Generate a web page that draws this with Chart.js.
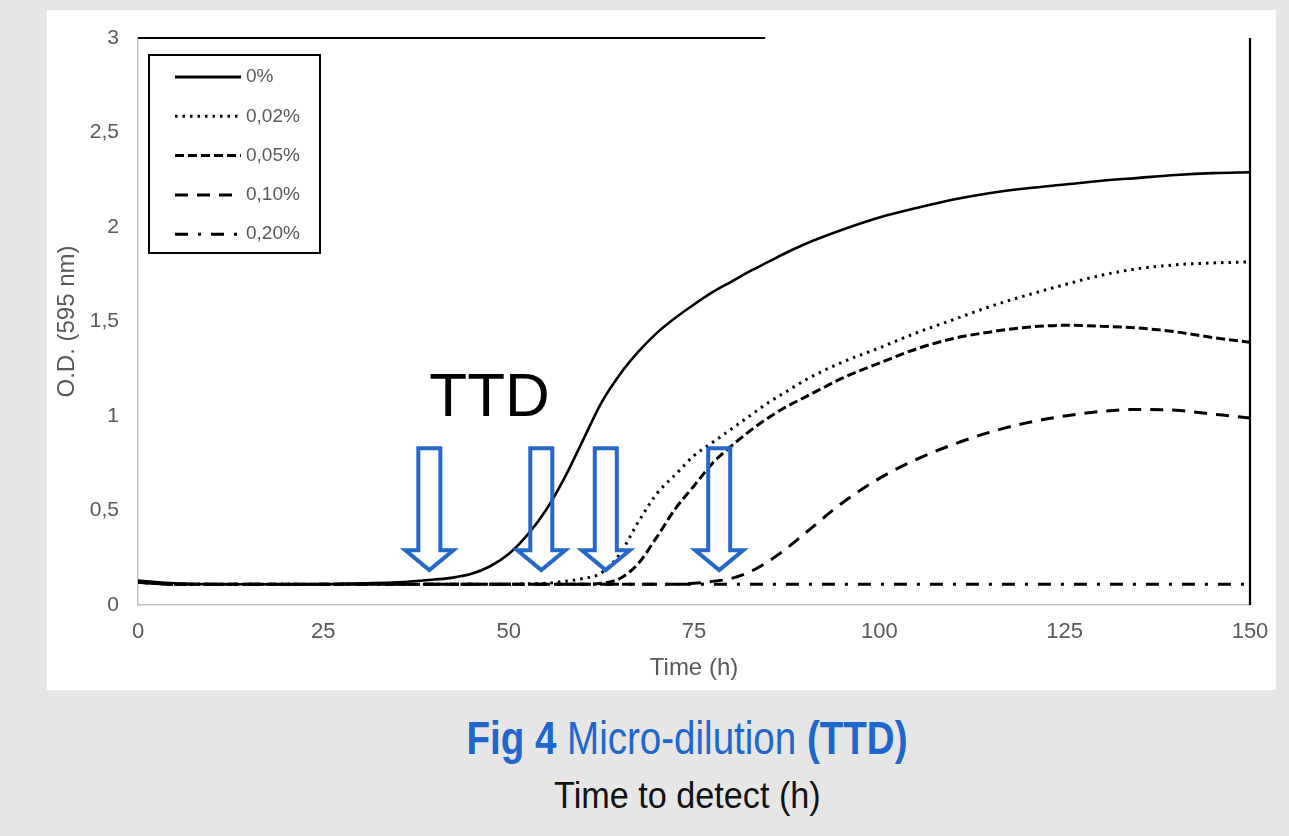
<!DOCTYPE html>
<html lang="en">
<head>
  <meta charset="UTF-8" />
  <title>Micro-dilution (TTD)</title>
  <script src="https://cdn.jsdelivr.net/npm/chart.js"></script>
  <style>
    body {
      margin: 0;
      width: 1289px;
      height: 836px;
      background-color: #e6e6e6;
      position: relative;
      overflow: hidden;
    }

    #panel {
      position: absolute;
      left: 47px;
      top: 10px;
      width: 1229px;
      height: 680px;
      background-color: white;
    }

    .caption {
      position: absolute;
      left: 0;
      width: 1374px;
      text-align: center;
      font-family: 'Liberation Sans', Arial, sans-serif;
      line-height: 1;
      white-space: nowrap;
    }

    .caption span {
      display: inline-block;
    }

    #cap1 {
      top: 714px;
      font-size: 47px;
      color: #2166cc;
    }

    #cap1 span {
      transform: scaleX(0.82);
    }

    #cap2 {
      top: 778px;
      font-size: 36px;
      color: #111;
    }

    #cap2 span {
      transform: scaleX(0.95);
    }
  </style>
</head>
<body>

<div id="panel">
  <canvas id="ttdChart" width="1229" height="680"></canvas>
</div>
<div class="caption" id="cap1"><span><b>Fig 4</b> Micro-dilution <b>(TTD)</b></span></div>
<div class="caption" id="cap2"><span>Time to detect (h)</span></div>

<script>
  // time points (h)
  const times = [0, 5, 10, 15, 20, 25, 30, 35, 40, 42.5, 45, 47.5, 50, 52.5, 55, 57.5, 60, 62.5, 65, 67.5,
                 70, 72.5, 75, 77.5, 80, 82.5, 85, 87.5, 90, 95, 100, 105, 110, 115, 120, 125, 130, 135, 140, 145, 150];

  // O.D. (595 nm) per concentration
  const od0 = [0.13, 0.115, 0.11, 0.11, 0.11, 0.11, 0.115, 0.12, 0.135, 0.145, 0.165, 0.205, 0.27, 0.37, 0.5, 0.67, 0.87, 1.07, 1.22, 1.34,
               1.44, 1.52, 1.59, 1.655, 1.71, 1.765, 1.815, 1.865, 1.91, 1.985, 2.05, 2.10, 2.145, 2.18, 2.205, 2.225, 2.245, 2.26, 2.275, 2.285, 2.29];
  const od002 = [0.12, 0.11, 0.11, 0.11, 0.11, 0.11, 0.11, 0.11, 0.11, 0.11, 0.11, 0.11, 0.11, 0.112, 0.115, 0.125, 0.14, 0.17, 0.27, 0.44,
                 0.59, 0.69, 0.79, 0.86, 0.93, 1.0, 1.07, 1.13, 1.19, 1.285, 1.36, 1.44, 1.51, 1.58, 1.64, 1.695, 1.745, 1.78, 1.80, 1.81, 1.815];
  const od005 = [0.12, 0.11, 0.11, 0.11, 0.11, 0.11, 0.11, 0.11, 0.11, 0.11, 0.11, 0.11, 0.11, 0.11, 0.11, 0.11, 0.11, 0.115, 0.14, 0.22,
                 0.36, 0.51, 0.63, 0.75, 0.84, 0.92, 0.99, 1.05, 1.10, 1.2, 1.28, 1.355, 1.41, 1.445, 1.47, 1.48, 1.475, 1.465, 1.445, 1.415, 1.39];
  const od010 = [0.12, 0.11, 0.11, 0.11, 0.11, 0.11, 0.11, 0.11, 0.11, 0.11, 0.11, 0.11, 0.11, 0.11, 0.11, 0.11, 0.11, 0.11, 0.11, 0.11,
                 0.11, 0.11, 0.115, 0.125, 0.14, 0.175, 0.23, 0.3, 0.38, 0.54, 0.67, 0.77, 0.85, 0.915, 0.965, 1.0, 1.025, 1.035, 1.03, 1.01, 0.99];
  const od020 = [0.12, 0.11, 0.11, 0.11, 0.11, 0.11, 0.11, 0.11, 0.11, 0.11, 0.11, 0.11, 0.11, 0.11, 0.11, 0.11, 0.11, 0.11, 0.11, 0.11,
                 0.11, 0.11, 0.11, 0.11, 0.11, 0.11, 0.11, 0.11, 0.11, 0.11, 0.11, 0.11, 0.11, 0.11, 0.11, 0.11, 0.11, 0.11, 0.11, 0.11, 0.11];

  const seriesLabels = ['0%', '0,02%', '0,05%', '0,10%', '0,20%'];
  const seriesValues = [od0, od002, od005, od010, od020];
  const seriesDash = [[], [2.5, 5], [9, 4], [13, 9], [13, 10, 3, 10]];

  // arrows marking the time to detect
  const ttdTimes = [39.3, 54.4, 63.1, 78.4];

  const xTicks = [0, 25, 50, 75, 100, 125, 150];
  const yTicks = [0, 0.5, 1, 1.5, 2, 2.5, 3];

  const BLUE = '#2468cc';
  const GREY_TEXT = '#595959';

  const extras = {
    id: 'extras',
    afterDatasetsDraw(chart) {
      const {ctx, chartArea: a, scales: {x, y}} = chart;
      ctx.save();

      // black frame on top (partial) and right side
      ctx.strokeStyle = '#000';
      ctx.lineWidth = 2.2;
      ctx.beginPath();
      ctx.moveTo(a.left, a.top);
      ctx.lineTo(x.getPixelForValue(84.6), a.top);
      ctx.moveTo(a.right, a.top);
      ctx.lineTo(a.right, a.bottom);
      ctx.stroke();

      // TTD label
      ctx.fillStyle = '#000';
      ctx.font = '62px "Liberation Sans", Arial, sans-serif';
      ctx.textAlign = 'left';
      ctx.textBaseline = 'alphabetic';
      ctx.fillText('TTD', x.getPixelForValue(39.3), y.getPixelForValue(1.0));

      // hollow arrows
      ctx.strokeStyle = BLUE;
      ctx.lineWidth = 4;
      ctx.lineJoin = 'miter';
      const top = y.getPixelForValue(0.83);
      const headTop = y.getPixelForValue(0.29);
      const tip = y.getPixelForValue(0.185);
      ttdTimes.forEach(t => {
        const cx = x.getPixelForValue(t);
        ctx.beginPath();
        ctx.moveTo(cx - 11, top);
        ctx.lineTo(cx + 11, top);
        ctx.lineTo(cx + 11, headTop);
        ctx.lineTo(cx + 24, headTop);
        ctx.lineTo(cx, tip);
        ctx.lineTo(cx - 24, headTop);
        ctx.lineTo(cx - 11, headTop);
        ctx.closePath();
        ctx.stroke();
      });

      // legend box
      const bx = a.left + 11, by = a.top + 17;
      ctx.strokeStyle = '#000';
      ctx.lineWidth = 2;
      ctx.setLineDash([]);
      ctx.strokeRect(bx, by, 171, 198);
      ctx.font = '19px "Liberation Sans", Arial, sans-serif';
      ctx.textBaseline = 'middle';
      chart.data.datasets.forEach((ds, i) => {
        const ly = by + 22 + i * 39.3;
        ctx.strokeStyle = '#000';
        ctx.lineWidth = 3;
        ctx.setLineDash(ds.borderDash);
        ctx.beginPath();
        ctx.moveTo(bx + 26, ly);
        ctx.lineTo(bx + 92, ly);
        ctx.stroke();
        ctx.setLineDash([]);
        ctx.fillStyle = GREY_TEXT;
        ctx.fillText(ds.label, bx + 97, ly);
      });

      ctx.restore();
    }
  };

  const ctx = document.getElementById('ttdChart').getContext('2d');
  const chart = new Chart(ctx, {
    type: 'line',
    data: {
      datasets: seriesLabels.map((label, i) => ({
        label: label,
        data: times.map((t, j) => ({x: t, y: seriesValues[i][j]})),
        borderColor: '#000',
        borderWidth: i === 0 ? 2.6 : 3,
        borderDash: seriesDash[i],
        pointRadius: 0,
        fill: false,
        cubicInterpolationMode: 'monotone'
      }))
    },
    options: {
      responsive: false,
      animation: false,
      layout: {
        padding: {left: 0, right: 26, top: 28, bottom: 0}
      },
      plugins: {
        legend: {display: false},
        tooltip: {enabled: false}
      },
      scales: {
        x: {
          type: 'linear',
          min: 0,
          max: 150,
          afterBuildTicks: s => { s.ticks = xTicks.map(v => ({value: v})); },
          afterFit: s => { s.height = 85; s.paddingLeft = 0; s.paddingRight = 0; },
          grid: {display: false, drawTicks: false},
          border: {display: true, color: '#bfbfbf', width: 1.5},
          ticks: {
            padding: 14,
            color: GREY_TEXT,
            font: {family: '"Liberation Sans", Arial, sans-serif', size: 22}
          },
          title: {
            display: true,
            text: 'Time (h)',
            color: GREY_TEXT,
            font: {family: '"Liberation Sans", Arial, sans-serif', size: 24},
            padding: {top: 0, bottom: 7.6}
          }
        },
        y: {
          min: 0,
          max: 3,
          afterBuildTicks: s => { s.ticks = yTicks.map(v => ({value: v})); },
          afterFit: s => { s.width = 91; s.paddingTop = 0; s.paddingBottom = 0; },
          grid: {display: false, drawTicks: false},
          border: {display: true, color: '#bfbfbf', width: 1.5},
          ticks: {
            padding: 19,
            color: GREY_TEXT,
            font: {family: '"Liberation Sans", Arial, sans-serif', size: 21},
            callback: v => String(v).replace('.', ',')
          },
          title: {
            display: true,
            text: 'O.D. (595 nm)',
            color: GREY_TEXT,
            font: {family: '"Liberation Sans", Arial, sans-serif', size: 24},
            padding: {top: 5.6, bottom: 0}
          }
        }
      }
    },
    plugins: [extras]
  });
</script>

</body>
</html>
